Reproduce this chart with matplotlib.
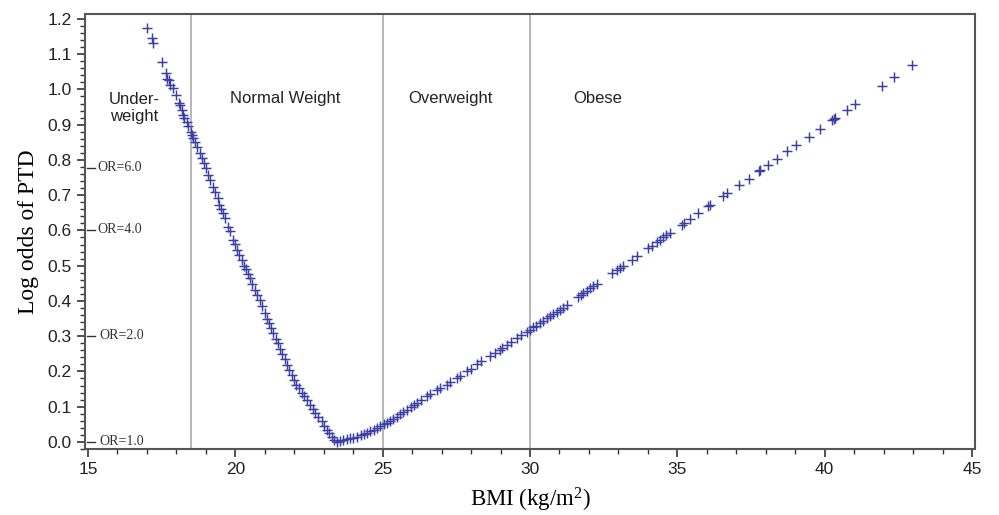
import matplotlib
matplotlib.use("Agg")
import matplotlib.pyplot as plt
from matplotlib.ticker import MultipleLocator
import matplotlib.transforms as mtransforms

plt.rcParams["mathtext.fontset"] = "custom"
plt.rcParams["mathtext.rm"] = "Liberation Serif"
plt.rcParams["mathtext.it"] = "Liberation Serif:italic"

# BMI values (kg/m^2) and log odds of PTD
bmi = [
    16.99, 17.16, 17.22, 17.50, 17.65, 17.68, 17.76, 17.80, 17.87, 17.99,
    18.09, 18.13, 18.18, 18.23, 18.27, 18.35, 18.40, 18.48, 18.52, 18.58,
    18.63, 18.70, 18.80, 18.86, 18.94, 19.00, 19.08, 19.15, 19.23, 19.30,
    19.42, 19.46, 19.52, 19.59, 19.65, 19.76, 19.82, 19.93, 19.98, 20.05,
    20.12, 20.22, 20.30, 20.36, 20.43, 20.50, 20.58, 20.67, 20.75, 20.84,
    20.92, 21.01, 21.08, 21.14, 21.22, 21.29, 21.38, 21.46, 21.53, 21.60,
    21.67, 21.74, 21.82, 21.91, 21.98, 22.06, 22.15, 22.25, 22.33, 22.42,
    22.52, 22.65, 22.72, 22.82, 22.93, 23.02, 23.10, 23.18, 23.27, 23.35,
    23.44, 23.55, 23.65, 23.78, 23.90, 24.00, 24.12, 24.25, 24.35, 24.46,
    24.58, 24.70, 24.80, 24.92, 25.03, 25.14, 25.25, 25.35, 25.47, 25.60,
    25.70, 25.81, 25.95, 26.05, 26.15, 26.30, 26.49, 26.60, 26.83, 26.95,
    27.17, 27.30, 27.51, 27.62, 27.85, 28.00, 28.19, 28.35, 28.64, 28.80,
    28.98, 29.04, 29.21, 29.35, 29.55, 29.70, 29.89, 30.00, 30.11, 30.20,
    30.34, 30.45, 30.56, 30.68, 30.79, 30.90, 31.02, 31.12, 31.24, 31.64,
    31.72, 31.81, 31.92, 32.03, 32.15, 32.26, 32.79, 32.94, 33.05, 33.17,
    33.45, 33.62, 34.01, 34.15, 34.30, 34.42, 34.52, 34.63, 34.75, 35.15,
    35.22, 35.43, 35.69, 36.05, 36.10, 36.56, 36.70, 37.09, 37.43, 37.76,
    37.80, 38.07, 38.37, 38.72, 39.03, 39.45, 39.84, 40.23, 40.30, 40.35,
    40.75, 41.02, 41.93, 42.36, 42.95,
]
log_odds = [
    1.175, 1.145, 1.131, 1.079, 1.046, 1.030, 1.027, 1.012, 1.003, 0.984,
    0.961, 0.955, 0.942, 0.928, 0.920, 0.909, 0.895, 0.880, 0.872, 0.862,
    0.852, 0.838, 0.819, 0.806, 0.790, 0.778, 0.757, 0.742, 0.724, 0.710,
    0.691, 0.672, 0.662, 0.649, 0.636, 0.611, 0.598, 0.573, 0.562, 0.545,
    0.530, 0.516, 0.500, 0.490, 0.476, 0.464, 0.448, 0.431, 0.416, 0.403,
    0.386, 0.365, 0.350, 0.337, 0.322, 0.308, 0.292, 0.280, 0.264, 0.250,
    0.234, 0.218, 0.204, 0.190, 0.176, 0.162, 0.152, 0.140, 0.130, 0.119,
    0.106, 0.093, 0.082, 0.072, 0.058, 0.046, 0.034, 0.024, 0.015, 0.006,
    0.001, 0.004, 0.006, 0.008, 0.010, 0.012, 0.015, 0.019, 0.022, 0.025,
    0.030, 0.034, 0.039, 0.045, 0.050, 0.053, 0.060, 0.066, 0.072, 0.079,
    0.085, 0.091, 0.099, 0.104, 0.110, 0.118, 0.129, 0.136, 0.148, 0.154,
    0.162, 0.170, 0.181, 0.188, 0.200, 0.208, 0.221, 0.230, 0.244, 0.252,
    0.261, 0.266, 0.275, 0.283, 0.294, 0.302, 0.313, 0.318, 0.325, 0.330,
    0.337, 0.344, 0.351, 0.357, 0.363, 0.369, 0.374, 0.380, 0.389, 0.410,
    0.416, 0.422, 0.429, 0.436, 0.441, 0.448, 0.479, 0.488, 0.493, 0.499,
    0.516, 0.528, 0.549, 0.556, 0.568, 0.574, 0.581, 0.587, 0.594, 0.616,
    0.621, 0.632, 0.649, 0.670, 0.672, 0.698, 0.707, 0.728, 0.747, 0.769,
    0.771, 0.786, 0.803, 0.825, 0.843, 0.865, 0.889, 0.913, 0.916, 0.920,
    0.941, 0.959, 1.011, 1.035, 1.070,
]

cutoffs = [18.5, 25, 30]
categories = ["Under-\nweight", "Normal Weight", "Overweight", "Obese"]
category_x = [16.56, 21.7, 27.3, 32.3]
or_labels = ["OR=1.0", "OR=2.0", "OR=4.0", "OR=6.0"]
or_values = [0.0, 0.301, 0.602, 0.778]

fig = plt.figure(figsize=(9.99, 5.15), dpi=100)
ax = fig.add_axes([0.0851, 0.1282, 0.8909, 0.8446])

for c in cutoffs:
    ax.axvline(c, color="#aaaaaa", lw=1.2, zorder=1)

ax.plot(bmi, log_odds, linestyle="none", marker="+", markersize=7.5,
        markeredgewidth=1.05, color="#3a3fa3", zorder=3)

for lab, xc in zip(categories, category_x):
    ax.text(xc, 0.975 if "\n" not in lab else 0.947, lab, ha="center", va="center",
            fontsize=12, family="Liberation Sans", color="#222222",
            linespacing=1.15)

trans = mtransforms.blended_transform_factory(ax.transAxes, ax.transData)
for lab, v in zip(or_labels, or_values):
    ax.plot([0.002, 0.011], [v, v], color="#333333", lw=1.0, transform=trans,
            clip_on=False)
    ax.text(0.0135 if v > 0.5 else 0.0165, v, lab, transform=trans,
            ha="left", va="center", fontsize=10, family="Liberation Serif",
            color="#333333")

ax.set_xlim(14.9, 45.1)
ax.set_ylim(-0.02, 1.214)
ax.xaxis.set_major_locator(MultipleLocator(5))
ax.xaxis.set_minor_locator(MultipleLocator(1))
ax.yaxis.set_minor_locator(MultipleLocator(0.02))
ax.set_yticks([i / 10 for i in range(13)])
ax.set_yticklabels([f"{i/10:.1f}" for i in range(13)])

ax.tick_params(axis="both", which="major", direction="out", length=6, width=1.2,
               labelsize=12.5, color="#333333", labelcolor="#222222")
ax.tick_params(axis="both", which="minor", direction="out", length=3.5, width=1.0,
               color="#333333")
for lab in ax.get_xticklabels() + ax.get_yticklabels():
    lab.set_family("Liberation Sans")

for s in ax.spines.values():
    s.set_color("#555555")
    s.set_linewidth(1.5)

ax.set_xlabel("BMI (kg/m$^2$)", fontsize=16.5, family="Liberation Serif", labelpad=6)
ax.set_ylabel("Log odds of PTD", fontsize=17, family="Liberation Serif", labelpad=6)

fig.savefig("out.png", dpi=100)
